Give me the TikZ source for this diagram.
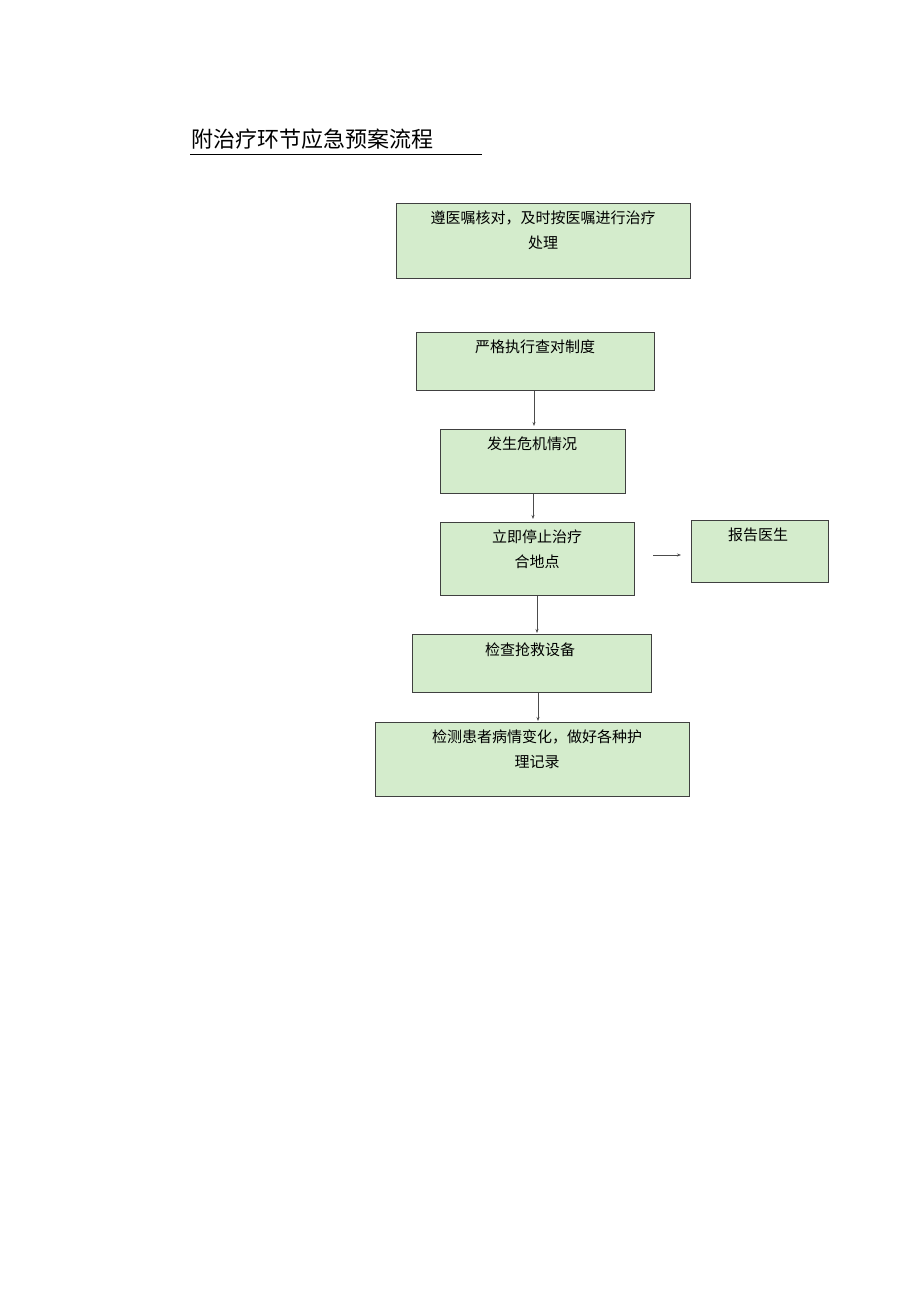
\documentclass[tikz,border=0pt]{standalone}
\usepackage{fontspec}
\usetikzlibrary{arrows.meta}
\newfontfamily\cjk{Noto Sans CJK SC}
\definecolor{boxfill}{RGB}{212,236,204}
\begin{document}
\begin{tikzpicture}[x=1pt,y=-1pt,
  bx/.style={draw=black!75,line width=0.9pt,fill=boxfill},
  tx/.style={font=\cjk\fontsize{15}{25}\selectfont,align=center,anchor=north,inner sep=0pt},
  ar/.style={draw=black!70,line width=0.8pt,-{Stealth[length=4pt,width=3pt]}}]
\useasboundingbox (0,0) rectangle (920,1301);
\node[font=\cjk\fontsize{22}{24}\selectfont,anchor=base west,inner sep=0pt] (title) at (191,147) {附治疗环节应急预案流程};
\draw[line width=0.7pt] (190,154) -- (482,154);
\draw[bx] (396,203) rectangle (690,278);
\node[tx] (t1) at (543,211) {遵医嘱核对，及时按医嘱进行治疗\\处理};
\draw[bx] (416,332) rectangle (654,390);
\node[tx] (t2) at (535,340) {严格执行查对制度};
\draw[bx] (440,429) rectangle (625,493);
\node[tx] (t3) at (532,437) {发生危机情况};
\draw[bx] (440,522) rectangle (634,595);
\node[tx] (t4) at (537,530) {立即停止治疗\\合地点};
\draw[bx] (691,520) rectangle (828,582);
\node[tx] (t5) at (758,528) {报告医生};
\draw[bx] (412,634) rectangle (651,692);
\node[tx] (t6) at (530,643) {检查抢救设备};
\draw[bx] (375,722) rectangle (689,796);
\node[tx] (t7) at (537,730) {检测患者病情变化，做好各种护\\理记录};
\coordinate (a1) at (534,391); \coordinate (b1) at (534,426);
\coordinate (a2) at (533,494); \coordinate (b2) at (533,519);
\coordinate (a3) at (537,596); \coordinate (b3) at (537,633);
\coordinate (a4) at (538,693); \coordinate (b4) at (538,721);
\coordinate (a5) at (653,555); \coordinate (b5) at (681,555);
\draw[ar] (a1) -- (b1);
\draw[ar] (a2) -- (b2);
\draw[ar] (a3) -- (b3);
\draw[ar] (a4) -- (b4);
\draw[ar] (a5) -- (b5);
\end{tikzpicture}
\end{document}
